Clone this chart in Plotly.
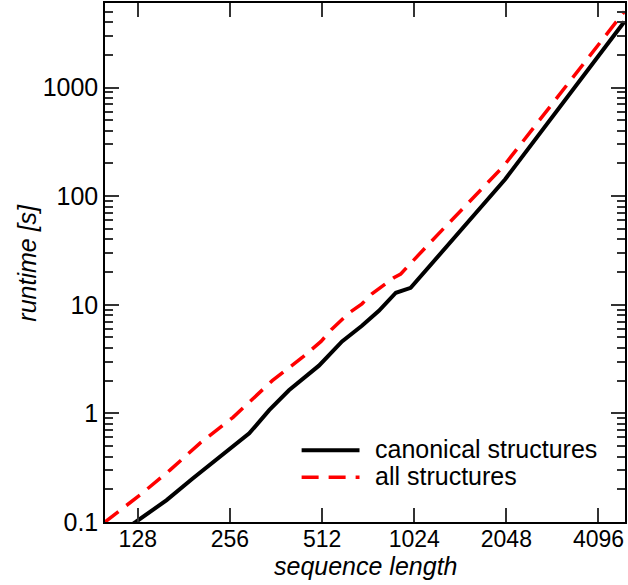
import plotly.graph_objects as go

# sequence length (N) and runtime [s]
canon_n = [100, 126, 159, 193, 296, 344, 399, 500, 595, 691, 785, 892, 997, 2030, 4975]
canon_t = [0.065, 0.1, 0.159, 0.25, 0.655, 1.07, 1.63, 2.75, 4.6, 6.4, 8.8, 12.9, 14.3, 143, 4030]

all_n = [100, 130, 163, 204, 262, 352, 441, 508, 552, 627, 691, 745, 878, 925, 1167, 2003, 4975]
all_t = [0.1, 0.177, 0.30, 0.53, 0.92, 2.0, 3.27, 4.6, 6.0, 8.4, 10.2, 12.6, 17.7, 19.2, 38.6, 188, 5000]

x_ticks = [128, 256, 512, 1024, 2048, 4096]
y_ticks = [0.1, 1, 10, 100, 1000]
y_ticktext = ["0.1", "1", "10", "100", "1000"]

series_names = ["canonical structures", "all structures"]

FONT = "Liberation Sans, Arial, sans-serif"
RED_DASH = "17px,10px"

# plot area in pixels (for paper-coordinate conversions of legend / titles)
L, R, T, B = 105, 626, 1, 522
W = R - L
H = B - T


def px_x(p):
    return (p - L) / W


def px_y(p):
    return (B - p) / H


fig = go.Figure()
fig.add_trace(go.Scatter(x=canon_n, y=canon_t, mode="lines", name=series_names[0],
                         line=dict(color="black", width=4), showlegend=False))
fig.add_trace(go.Scatter(x=all_n, y=all_t, mode="lines", name=series_names[1],
                         line=dict(color="#ff0000", width=3.5, dash=RED_DASH), showlegend=False))

axis_common = dict(showline=True, linecolor="black", linewidth=1.5, mirror="ticks",
                   ticks="inside", ticklen=14, tickwidth=1.5, tickcolor="#333",
                   showgrid=False, zeroline=False)

fig.update_xaxes(type="log", range=[2, 3.699], tickvals=x_ticks,
                 ticktext=[str(v) for v in x_ticks],
                 tickfont=dict(family=FONT, size=23, color="black"),
                 ticklabelstandoff=-4,
                 **axis_common)
fig.update_yaxes(type="log", range=[-1, 3.778], tickvals=y_ticks, ticktext=y_ticktext,
                 tickfont=dict(family=FONT, size=25, color="black"),
                 minor=dict(ticks="inside", ticklen=8, tickwidth=1.5, tickcolor="#333",
                            tickvals=[m * 10 ** e for e in range(-1, 4) for m in range(2, 10)]),
                 **axis_common)

# axis titles
annotations = [
    dict(text="<i>sequence length</i>", xref="paper", yref="paper", x=0.5, y=px_y(566),
         xanchor="center", yanchor="middle", showarrow=False,
         font=dict(family=FONT, size=25, color="black")),
    dict(text="<i>runtime [s]</i>", xref="paper", yref="paper", x=px_x(26), y=0.5,
         xanchor="center", yanchor="middle", textangle=-90, showarrow=False,
         font=dict(family=FONT, size=25, color="black")),
]

# legend (drawn manually for tight row spacing)
legend_rows = [(450, "black", 4, "solid"), (477, "#ff0000", 3.5, RED_DASH)]
shapes = []
for (py, col, w, dash), name in zip(legend_rows, series_names):
    shapes.append(dict(type="line", xref="paper", yref="paper",
                       x0=px_x(302), x1=px_x(360), y0=px_y(py), y1=px_y(py),
                       line=dict(color=col, width=w, dash=dash)))
    annotations.append(dict(text=name, xref="paper", yref="paper", x=px_x(374), y=px_y(py - 1),
                            xanchor="left", yanchor="middle", showarrow=False,
                            font=dict(family=FONT, size=25, color="black")))

fig.update_layout(width=628, height=585, margin=dict(l=L, r=628 - R, t=T, b=585 - B),
                  paper_bgcolor="white", plot_bgcolor="white",
                  annotations=annotations, shapes=shapes, showlegend=False)

fig.write_html("out.html")
